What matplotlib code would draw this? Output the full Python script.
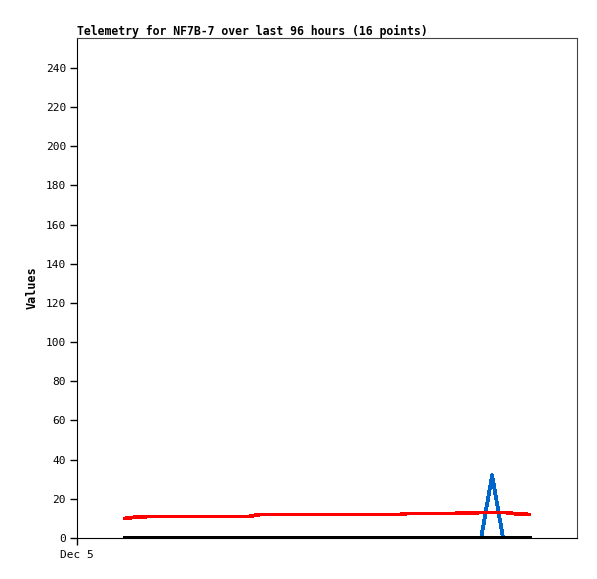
import matplotlib
matplotlib.use("Agg")
import matplotlib.pyplot as plt

# hours since Dec 5 00:00
hours = [9.2, 10.75, 13.8, 23.6, 33.0, 35.1, 42.8, 62.0, 63.4, 71.9, 77.6, 79.7, 81.8, 82.4, 83.7, 86.8]
red_vals = [10, 10.5, 11, 11, 11, 12, 12, 12, 12.5, 12.5, 13, 13, 13, 13, 12.5, 12]
blue_vals = [0, 0, 0, 0, 0, 0, 0, 0, 0, 0, 0, 32, 0, 0, 0, 0]
black_vals = [0] * 16
x_ticks = [0]
x_tick_labels = ["Dec 5"]
y_ticks = list(range(0, 241, 20))

fig = plt.figure(figsize=(5.97, 5.79), dpi=100)
ax = fig.add_axes([77/597, 1-538/579, 500/597, 500/579])

ax.plot(hours, blue_vals, color="#0066cc", lw=2, antialiased=False)
ax.plot(hours, red_vals, color="#ff0000", lw=2, antialiased=False)
ax.plot(hours, black_vals, color="#000000", lw=2.2, antialiased=False)

ax.set_xlim(0, 96)
ax.set_ylim(0, 255.3)
ax.set_yticks(y_ticks)
ax.set_xticks(x_ticks)
ax.set_xticklabels(x_tick_labels)

mono = "DejaVu Sans Mono"
for lab in ax.get_yticklabels() + ax.get_xticklabels():
    lab.set_fontfamily(mono)
    lab.set_fontsize(8)
ax.tick_params(axis="both", direction="out", length=5, width=1, color="black", pad=3)
ax.tick_params(axis="x", pad=4)

for s in ["left", "bottom"]:
    ax.spines[s].set_color("black")
for s in ["top", "right"]:
    ax.spines[s].set_color("#444444")

ax.set_ylabel("Values", fontfamily=mono, fontweight="bold", fontsize=8.5, labelpad=5)
ax.set_title("Telemetry for NF7B-7 over last 96 hours (16 points)", loc="left",
             fontfamily=mono, fontweight="bold", fontsize=8.3, pad=2)

fig.savefig("out.png", dpi=100)
